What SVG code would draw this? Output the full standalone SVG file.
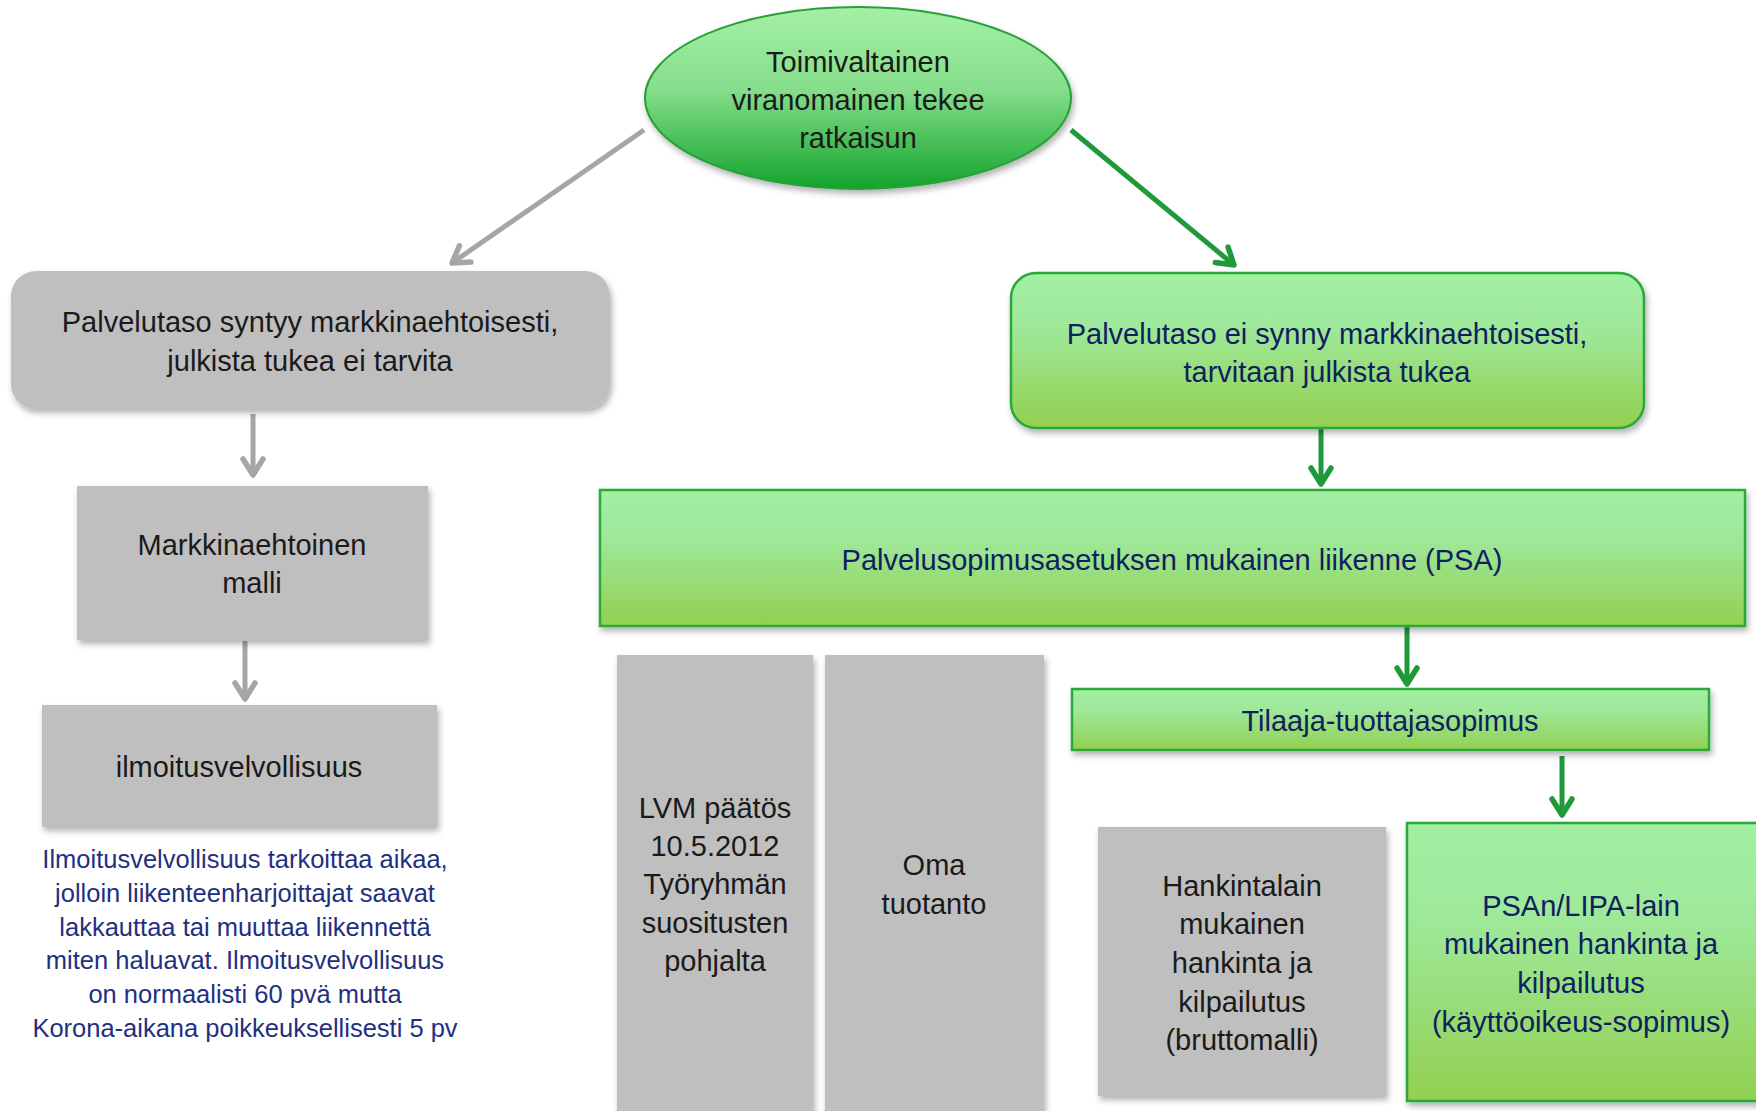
<svg xmlns="http://www.w3.org/2000/svg" width="1756" height="1111" viewBox="0 0 1756 1111">
<defs>
<linearGradient id="gBox" x1="0" y1="0" x2="0" y2="1">
<stop offset="0" stop-color="#a2f0a2"/>
<stop offset="0.35" stop-color="#9ee89a"/>
<stop offset="1" stop-color="#92d050"/>
</linearGradient>
<linearGradient id="gEll" x1="0" y1="0" x2="0" y2="1">
<stop offset="0" stop-color="#a4f0a4"/>
<stop offset="0.45" stop-color="#86de8c"/>
<stop offset="1" stop-color="#12a42c"/>
</linearGradient>
<filter id="sh" x="-10%" y="-10%" width="125%" height="130%">
<feDropShadow dx="2" dy="4" stdDeviation="3" flood-color="#000" flood-opacity="0.3"/>
</filter>
<marker id="aGreen" markerUnits="userSpaceOnUse" markerWidth="40" markerHeight="40" viewBox="-20 -20 40 40" refX="0" refY="0" orient="auto">
<path d="M-16,-10 L0,0 L-16,10" fill="none" stroke="#1f9a3a" stroke-width="5.5" stroke-linecap="round" stroke-linejoin="round"/>
</marker>
<marker id="aGray" markerUnits="userSpaceOnUse" markerWidth="40" markerHeight="40" viewBox="-20 -20 40 40" refX="0" refY="0" orient="auto">
<path d="M-16,-10 L0,0 L-16,10" fill="none" stroke="#a6a6a6" stroke-width="5.5" stroke-linecap="round" stroke-linejoin="round"/>
</marker>
</defs>
<style>
text{font-family:"Liberation Sans",Arial,sans-serif;text-anchor:middle;dominant-baseline:central}
.t{font-size:29px}
.dk{fill:#1a1a1a}
.nv{fill:#0f2060}
.desc{font-size:25.5px;fill:#1f3080}
.gray{fill:#bfbfbf;filter:url(#sh)}
.green{fill:url(#gBox);stroke:#2aa83a;stroke-width:2.5;filter:url(#sh)}
.lg{stroke:#a6a6a6;stroke-width:5;fill:none;marker-end:url(#aGray)}
.lgr{stroke:#1f9a3a;stroke-width:5;fill:none;marker-end:url(#aGreen)}
</style>
<rect width="1756" height="1111" fill="#ffffff"/>

<g id="connectors">
<line class="lg" x1="644" y1="130" x2="452" y2="263"/>
<line class="lgr" x1="1071" y1="130" x2="1234" y2="265"/>
<line class="lg" x1="253" y1="414" x2="253" y2="475"/>
<line class="lg" x1="245" y1="641" x2="245" y2="699"/>
<line class="lgr" x1="1321" y1="426" x2="1321" y2="484"/>
<line class="lgr" x1="1407" y1="626" x2="1407" y2="684"/>
<line class="lgr" x1="1562" y1="756" x2="1562" y2="815"/>
</g>

<g id="root">
<ellipse cx="858" cy="98" rx="213" ry="91" fill="url(#gEll)" stroke="#2aa03a" stroke-width="2" filter="url(#sh)"/>
<text class="t dk" x="858" y="62">Toimivaltainen</text>
<text class="t dk" x="858" y="100">viranomainen tekee</text>
<text class="t dk" x="858" y="138">ratkaisun</text>
</g>

<g id="markkina">
<rect class="gray" x="11" y="271" width="599" height="138" rx="25"/>
<text class="t dk" x="310" y="322">Palvelutaso syntyy markkinaehtoisesti,</text>
<text class="t dk" x="310" y="361">julkista tukea ei tarvita</text>
</g>

<g id="julkinen">
<rect class="green" x="1011" y="273" width="633" height="155" rx="25"/>
<text class="t nv" x="1327" y="334">Palvelutaso ei synny markkinaehtoisesti,</text>
<text class="t nv" x="1327" y="372">tarvitaan julkista tukea</text>
</g>

<g id="malli">
<rect class="gray" x="77" y="486" width="351" height="154"/>
<text class="t dk" x="252" y="545">Markkinaehtoinen</text>
<text class="t dk" x="252" y="583">malli</text>
</g>

<g id="ilmoitus">
<rect class="gray" x="42" y="705" width="395" height="122"/>
<text class="t dk" x="239" y="767">ilmoitusvelvollisuus</text>
</g>

<g id="selite">
<text class="desc" x="245" y="859">Ilmoitusvelvollisuus tarkoittaa aikaa,</text>
<text class="desc" x="245" y="893">jolloin liikenteenharjoittajat saavat</text>
<text class="desc" x="245" y="927">lakkauttaa tai muuttaa liikennettä</text>
<text class="desc" x="245" y="960">miten haluavat. Ilmoitusvelvollisuus</text>
<text class="desc" x="245" y="994">on normaalisti 60 pvä mutta</text>
<text class="desc" x="245" y="1028">Korona-aikana poikkeuksellisesti 5 pv</text>
</g>

<g id="psa">
<rect class="green" x="600" y="490" width="1145" height="136"/>
<text class="t nv" x="1172" y="560">Palvelusopimusasetuksen mukainen liikenne (PSA)</text>
</g>

<g id="lvm">
<rect class="gray" x="617" y="655" width="196" height="470"/>
<text class="t dk" x="715" y="808">LVM päätös</text>
<text class="t dk" x="715" y="846">10.5.2012</text>
<text class="t dk" x="715" y="884">Työryhmän</text>
<text class="t dk" x="715" y="923">suositusten</text>
<text class="t dk" x="715" y="961">pohjalta</text>
</g>

<g id="oma">
<rect class="gray" x="825" y="655" width="219" height="470"/>
<text class="t dk" x="934" y="865">Oma</text>
<text class="t dk" x="934" y="904">tuotanto</text>
</g>

<g id="tilaaja">
<rect class="green" x="1072" y="689" width="637" height="61"/>
<text class="t nv" x="1390" y="721">Tilaaja-tuottajasopimus</text>
</g>

<g id="hankintalaki">
<rect class="gray" x="1098" y="827" width="288" height="269"/>
<text class="t dk" x="1242" y="886">Hankintalain</text>
<text class="t dk" x="1242" y="924">mukainen</text>
<text class="t dk" x="1242" y="963">hankinta ja</text>
<text class="t dk" x="1242" y="1002">kilpailutus</text>
<text class="t dk" x="1242" y="1040">(bruttomalli)</text>
</g>

<g id="psan">
<rect class="green" x="1407" y="823" width="360" height="278"/>
<text class="t nv" x="1581" y="906">PSAn/LIPA-lain</text>
<text class="t nv" x="1581" y="944">mukainen hankinta ja</text>
<text class="t nv" x="1581" y="983">kilpailutus</text>
<text class="t nv" x="1581" y="1022">(käyttöoikeus-sopimus)</text>
</g>
</svg>
